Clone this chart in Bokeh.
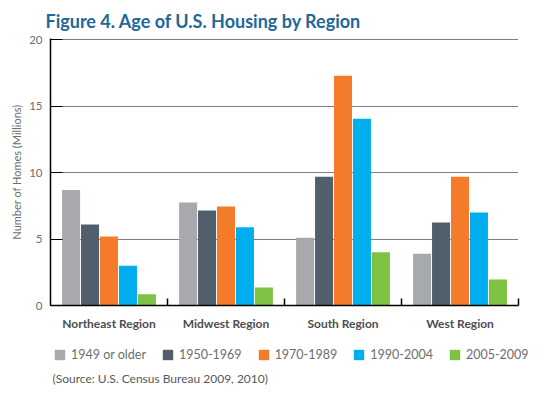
import numpy as np
from bokeh.plotting import figure
from bokeh.layouts import column
from bokeh.models import Range1d, LinearAxis, FixedTicker, Legend, LegendItem, Label, ColumnDataSource
from bokeh.embed import file_html
from bokeh.resources import INLINE

regions = ["Northeast Region", "Midwest Region", "South Region", "West Region"]
series = ["1949 or older", "1950-1969", "1970-1989", "1990-2004", "2005-2009"]
v1949 = [8.7, 7.75, 5.1, 3.9]
v1950 = [6.1, 7.15, 9.7, 6.25]
v1970 = [5.2, 7.45, 17.3, 9.7]
v1990 = [3.0, 5.9, 14.05, 7.0]
v2005 = [0.85, 1.35, 4.0, 1.95]
values = [v1949, v1950, v1970, v1990, v2005]
colors = ["#a7a9ac", "#515f6d", "#f47b2a", "#00aeef", "#7dc242"]
y_ticks = [0, 5, 10, 15, 20]

title_color = "#22679a"
text_gray = "#6d6e71"

W = 551
p = figure(width=W, height=333, x_range=Range1d(0, len(regions)), y_range=Range1d(0, 20.1),
           output_backend="svg", toolbar_location=None, x_axis_location=None,
           min_border_left=50, min_border_right=33, min_border_top=38, min_border_bottom=25)
p.outline_line_color = None
p.background_fill_color = "white"

p.title.text = "Figure 4. Age of U.S. Housing by Region"
p.title.text_font = "Lato"
p.title.text_font_size = "18px"
p.title.text_font_style = "bold"
p.title.text_color = title_color
p.title.offset = -5
p.title.standoff = 13

centers = np.arange(len(regions)) + 0.5
step = 0.162
width = 0.154
sources = []
for k, (name, vals, col) in enumerate(zip(series, values, colors)):
    src = ColumnDataSource(dict(x=centers + (k - 2) * step, top=vals))
    p.vbar(x="x", top="top", width=width, bottom=0, source=src, fill_color=col, line_color=None)
    sources.append(src)

# x axis
xaxis = LinearAxis(ticker=FixedTicker(ticks=list(centers), minor_ticks=list(range(1, len(regions) + 1))),
                   major_label_overrides={float(c): n for c, n in zip(centers, regions)})
xaxis.axis_line_color = "black"
xaxis.axis_line_width = 1.5
xaxis.major_tick_line_color = None
xaxis.major_tick_in = 0
xaxis.major_tick_out = 0
xaxis.minor_tick_in = 7
xaxis.minor_tick_out = 0
xaxis.minor_tick_line_color = "black"
xaxis.minor_tick_line_width = 1.5
xaxis.major_label_text_font = "Lato"
xaxis.major_label_text_font_style = "bold"
xaxis.major_label_text_font_size = "12px"
xaxis.major_label_text_color = "#4d4d4f"
xaxis.major_label_standoff = 10
p.add_layout(xaxis, "below")

# y axis
ya = p.yaxis[0]
ya.ticker = FixedTicker(ticks=y_ticks)
ya.axis_line_color = "black"
ya.axis_line_width = 1.5
ya.major_tick_in = 12
ya.major_tick_out = 0
ya.major_tick_line_color = "black"
ya.major_tick_line_width = 1
ya.minor_tick_line_color = None
ya.major_label_text_font = "Lato"
ya.major_label_text_font_size = "11.5px"
ya.major_label_text_color = text_gray
ya.major_label_standoff = 8
ya.axis_label = "Number of Homes (Millions)"
ya.axis_label_text_font = "Lato"
ya.axis_label_text_font_style = "normal"
ya.axis_label_text_font_size = "11px"
ya.axis_label_text_color = text_gray
ya.axis_label_standoff = 3

p.xgrid.grid_line_color = None
p.ygrid.ticker = FixedTicker(ticks=y_ticks[1:])
p.ygrid.grid_line_color = "black"
p.ygrid.grid_line_dash = "1 1"
p.ygrid.grid_line_width = 1

# legend + source panel (second figure; its view range excludes the bars)
H2 = 55
p2 = figure(width=W, height=H2, x_range=Range1d(100, 101), y_range=Range1d(100, 101),
            output_backend="svg", toolbar_location=None, x_axis_location=None, y_axis_location=None,
            min_border=0, frame_align=False)
p.frame_align = False
p2.outline_line_color = None
p2.grid.visible = False
leg_renderers = []
for src, col in zip(sources, colors):
    leg_renderers.append(p2.vbar(x="x", top="top", width=width, bottom=0, source=src,
                                 fill_color=col, line_color=None))

legend = Legend(items=[LegendItem(label=n, renderers=[r]) for n, r in zip(series, leg_renderers)],
                orientation="horizontal", location=(53, 26))
legend.glyph_width = 13
legend.glyph_height = 13
legend.label_standoff = 5
legend.spacing = 15
legend.padding = 0
legend.margin = 0
legend.border_line_color = None
legend.background_fill_alpha = 0
legend.label_text_font = "Lato"
legend.label_text_font_size = "12.5px"
legend.label_text_color = text_gray
legend.label_height = 13
p2.add_layout(legend, "center")

src_label = Label(x=52, y=3, x_units="screen", y_units="screen",
                  text="(Source: U.S. Census Bureau 2009, 2010)",
                  text_font="Lato", text_font_size="12px", text_color="#58595b")
p2.add_layout(src_label)

layout = column(p, p2, spacing=0)
open("out.html", "w").write(file_html(layout, INLINE))
